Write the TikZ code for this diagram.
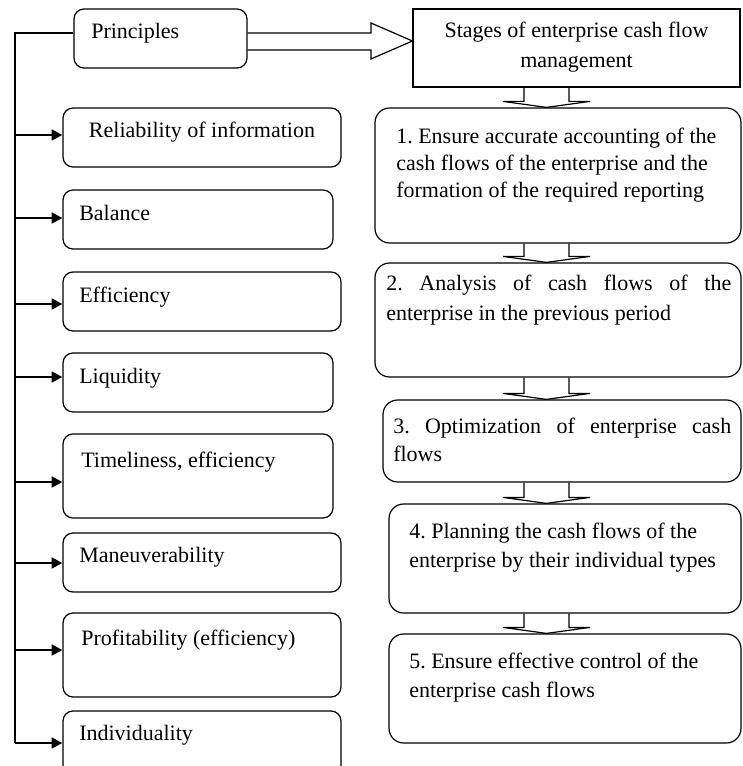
\documentclass[tikz,border=0pt]{standalone}
\usepackage{fontspec}
\setmainfont{Liberation Serif}
\usetikzlibrary{arrows.meta,calc}
\frenchspacing
\tikzset{
  box/.style={draw, line width=0.9pt, rounded corners=7.5pt, inner sep=0pt, minimum height=44.25pt},
  sbox/.style={draw, line width=0.9pt, rounded corners=11pt, inner sep=0pt},
  hbox/.style={draw, line width=0.9pt, inner sep=0pt},
  txt/.style={inner sep=0pt, anchor=base west, font=\fontsize{16.5}{20.6}\selectfont},
  arr/.style={line width=1.9pt, -{Triangle[length=8pt,width=8pt]}},
  thinl/.style={line width=0.9pt},
}
\newcommand\hdown[2]{%
  \draw[thinl] (#1.south -| xl) -- ($(#2.north -| xl)+(0,-6)$) -- ($(#2.north -| hl)+(0,-6)$)
    -- (#2.north -| hc) -- ($(#2.north -| hr)+(0,-6)$) -- ($(#2.north -| xr)+(0,-6)$) -- (#1.south -| xr);}
\begin{document}
\begin{tikzpicture}[x=0.75pt,y=-0.75pt]
\useasboundingbox (0,0) rectangle (742,766);
\fill[white] (0,0) rectangle (742,766);
% left boxes
\node[box, minimum width=129.75pt] (P) at (160.5,38.5) {};
\node[box, minimum width=208.5pt] (R) at (202,137.5) {};
\node[box, minimum width=202.5pt] (B) at (198,219.5) {};
\node[box, minimum width=208.5pt] (E) at (202,301.5) {};
\node[box, minimum width=202.5pt] (L) at (198,382.5) {};
\node[box, minimum width=202.5pt, minimum height=63pt] (T) at (198,476) {};
\node[box, minimum width=208.5pt] (M) at (202,562.5) {};
\node[box, minimum width=208.5pt, minimum height=63pt] (Pr) at (202,655) {};
\node[box, minimum width=208.5pt, minimum height=48pt] (I) at (202,743) {};
% left texts
\node[txt] (tP) at (91,39) {Principles};
\node[txt, anchor=base] (tR) at (202,138) {Reliability of information};
\node[txt] (tB) at (79,221) {Balance};
\node[txt] (tE) at (79,302) {Efficiency};
\node[txt] (tL) at (79,383) {Liquidity};
\node[txt] (tT) at (81,467) {Timeliness, efficiency};
\node[txt] (tM) at (79,562) {Maneuverability};
\node[txt] (tPr) at (81,645) {Profitability (efficiency)};
\node[txt] (tI) at (79,740) {Individuality};
% right boxes
\node[hbox, minimum width=245.25pt, minimum height=58.5pt] (S) at (576.5,48) {};
\node[sbox, minimum width=274.5pt, minimum height=101.25pt] (S1) at (558,175.5) {};
\node[sbox, minimum width=274.5pt, minimum height=85.5pt] (S2) at (558,320) {};
\node[sbox, minimum width=268.5pt, minimum height=61.5pt] (S3) at (562,441) {};
\node[sbox, minimum width=264pt, minimum height=81.75pt] (S4) at (565,558.5) {};
\node[sbox, minimum width=264pt, minimum height=81.75pt] (S5) at (565,688.5) {};
% right texts (base = baseline of last line)
\node[txt, anchor=base, align=center, font=\fontsize{16.5}{22.5}\selectfont] (tS) at (576.5,68)
  {Stages of enterprise cash flow\\management};
\node[txt, align=left, font=\fontsize{16.5}{20.6}\selectfont] (tS1) at (396,198)
  {1. Ensure accurate accounting of the\\cash flows of the enterprise and the\\formation of the required reporting};
\node[txt, align=left, font=\fontsize{16.5}{21.75}\selectfont] (tS2) at (386,320)
  {\makebox[258.75pt][s]{2. Analysis of cash flows of the}\\enterprise in the previous period};
\node[txt, align=left, font=\fontsize{16.5}{21}\selectfont] (tS3) at (393,461)
  {\makebox[253.5pt][s]{3. Optimization of enterprise cash}\\flows};
\node[txt, align=left, font=\fontsize{16.5}{21.75}\selectfont] (tS4) at (409,567)
  {4. Planning the cash flows of the\\enterprise by their individual types};
\node[txt, align=left, font=\fontsize{16.5}{21.75}\selectfont] (tS5) at (409,697)
  {5. Ensure effective control of the\\enterprise cash flows};
% spine
\coordinate (top) at (15,33);
\coordinate (bot) at (15,743);
\draw[thinl] (P.west |- top) -- (top) -- (bot);
\foreach \n/\yy in {R/135,B/218,E/304,L/377,T/482,M/563,Pr/650,I/743}{
  \coordinate (s\n) at (15,\yy);
  \draw[arr] (s\n) -- (s\n -| \n.west);
}
% hollow right arrow
\coordinate (a1) at (371,33);
\coordinate (a2) at (371,23);
\coordinate (a3) at (412,41);
\coordinate (a4) at (371,59);
\coordinate (a5) at (371,50);
\draw[thinl] (P.east |- a1) -- (a1) -- (a2) -- (S.west |- a3) -- (a4) -- (a5) -- (P.east |- a5);
% hollow down arrows
\coordinate (xl) at (524,0);
\coordinate (xr) at (569,0);
\coordinate (hl) at (503,0);
\coordinate (hr) at (590,0);
\coordinate (hc) at (546.5,0);
\hdown{S}{S1}
\hdown{S1}{S2}
\hdown{S2}{S3}
\hdown{S3}{S4}
\hdown{S4}{S5}
\end{tikzpicture}
\end{document}
